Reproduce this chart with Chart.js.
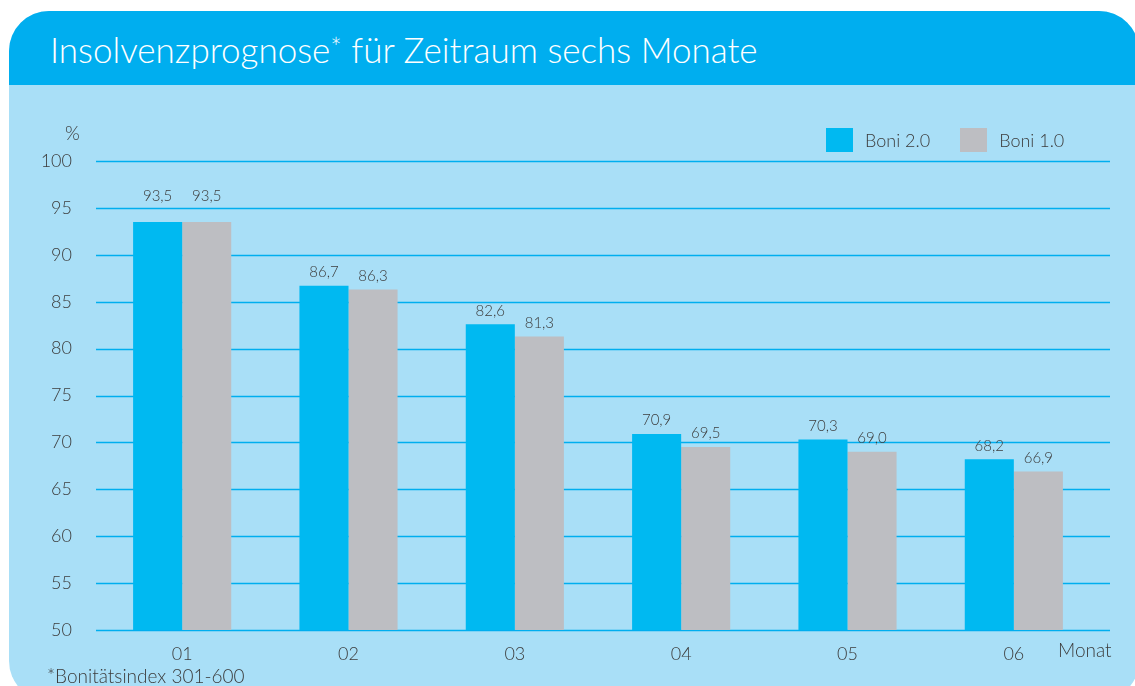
<!DOCTYPE html>
<html lang="de">
<head>
<meta charset="utf-8">
<script src="https://cdn.jsdelivr.net/npm/chart.js@4/dist/chart.umd.min.js"></script>
<style>
  body { margin: 0; width: 1135px; height: 686px; background: #fff; position: relative; overflow: hidden; font-family: Lato, "Open Sans", sans-serif; }
  .panel { position: absolute; left: 9px; top: 11px; width: 1130px; height: 690px; background: #a9dff7; border-radius: 40px; overflow: hidden; }
  .kopf { position: absolute; left: 0; top: 0; right: 0; height: 74px; background: #00aeef; }
  .titel { position: absolute; left: 41px; top: 17px; color: #fff; font-size: 35px; font-weight: 300; white-space: nowrap; }
  .titel sup { font-size: 27px; vertical-align: 0; position: relative; top: -6px; }
  #grafik { position: absolute; left: 0; top: 0; }
  .txt { position: absolute; color: #3c3c3c; font-size: 19px; font-weight: 300; white-space: nowrap; }
  .legende { position: absolute; top: 128px; left: 826px; height: 24px; display: flex; align-items: center; color: #3c3c3c; font-size: 18px; font-weight: 300; }
  .legende .box { width: 27px; height: 24px; margin-right: 12px; }
</style>
</head>
<body>
<div class="panel">
  <div class="kopf"><div class="titel">Insolvenzprognose<sup>*</sup> für Zeitraum sechs Monate</div></div>
</div>
<canvas id="grafik" width="1135" height="686"></canvas>
<div class="txt" style="left:65px; top:121px;">%</div>
<div class="txt" style="left:1058px; top:638px;">Monat</div>
<div class="txt" style="left:47px; top:664px;">*Bonitätsindex 301-600</div>
<div class="legende" id="legende"></div>
<script>
const monate = ['01', '02', '03', '04', '05', '06'];
const boni20 = [93.5, 86.7, 82.6, 70.9, 70.3, 68.2];
const boni10 = [93.5, 86.3, 81.3, 69.5, 69.0, 66.9];
const yTicks = [50, 55, 60, 65, 70, 75, 80, 85, 90, 95, 100];

const BLAU = '#00b9f1';
const GRAU = '#bdbec2';
const LINIE = '#00aeef';
const TEXT = '#3c3c3c';
const SCHRIFT = 'Lato, "Open Sans", sans-serif';

// horizontale Linien etwas über den Plotbereich hinaus
const gitter = {
  id: 'gitter',
  beforeDatasetsDraw(chart) {
    const { ctx, chartArea, scales } = chart;
    ctx.save();
    ctx.strokeStyle = LINIE;
    ctx.lineWidth = 1.5;
    yTicks.forEach(v => {
      const y = Math.round(scales.y.getPixelForValue(v)) + 0.5;
      ctx.beginPath();
      ctx.moveTo(chartArea.left - 3, y);
      ctx.lineTo(chartArea.right + 13, y);
      ctx.stroke();
    });
    ctx.restore();
  }
};

const werte = {
  id: 'werte',
  afterDatasetsDraw(chart) {
    const ctx = chart.ctx;
    ctx.save();
    ctx.fillStyle = TEXT;
    ctx.font = '300 15px ' + SCHRIFT;
    ctx.textAlign = 'center';
    ctx.textBaseline = 'bottom';
    chart.data.datasets.forEach((ds, i) => {
      chart.getDatasetMeta(i).data.forEach((bar, j) => {
        const abstand = ds.data[j] > 93 ? 18 : 6;
        ctx.fillText(ds.data[j].toFixed(1).replace('.', ','), bar.x, bar.y - abstand);
      });
    });
    ctx.restore();
  }
};

const chart = new Chart(document.getElementById('grafik'), {
  type: 'bar',
  data: {
    labels: monate,
    datasets: [
      { label: 'Boni 2.0', data: boni20, backgroundColor: BLAU },
      { label: 'Boni 1.0', data: boni10, backgroundColor: GRAU }
    ]
  },
  options: {
    responsive: false,
    animation: false,
    devicePixelRatio: 1,
    layout: { padding: { left: 0, top: 161, right: 38, bottom: 16 } },
    datasets: { bar: { barPercentage: 1, categoryPercentage: 0.59 } },
    scales: {
      x: {
        grid: { display: false },
        border: { display: false },
        ticks: { color: TEXT, font: { family: SCHRIFT, size: 18, weight: 300 }, padding: 5 },
        afterFit(s) { s.height = 40; }
      },
      y: {
        min: 50,
        max: 100,
        grid: { display: false },
        border: { display: false },
        ticks: { stepSize: 5, color: TEXT, font: { family: SCHRIFT, size: 18, weight: 300 }, padding: 19 },
        afterFit(s) { s.width = 99; }
      }
    },
    plugins: {
      legend: { display: false },
      tooltip: { enabled: false }
    }
  },
  plugins: [gitter, werte]
});

const legende = document.getElementById('legende');
chart.data.datasets.forEach((ds, i) => {
  legende.insertAdjacentHTML('beforeend',
    `<span class="box" style="background:${ds.backgroundColor}"></span><span style="margin-right:${i === 0 ? 30 : 0}px">${ds.label}</span>`);
});
</script>
</body>
</html>
